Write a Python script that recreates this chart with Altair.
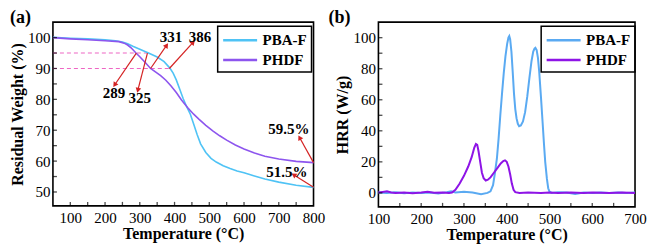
import math
import altair as alt
import pandas as pd

# ---------------- data ----------------
series = ["PBA-F", "PHDF"]

# TGA (panel a)
tga_t_pbaf = [50, 100, 150, 200, 230, 250, 265, 280, 300, 325, 350, 370, 386, 396, 405, 415,
              425, 435, 445, 455, 465, 475, 490, 505, 520, 540, 560, 580, 600, 630, 660, 700, 750, 800]
tga_w_pbaf = [100.1, 99.8, 99.6, 99.3, 99.0, 98.6, 98.0, 97.2, 96.2, 95.0, 93.7, 92.2, 90.2, 88.5, 86.3, 83.3,
              80.2, 77.6, 75.3, 72.0, 68.6, 65.6, 62.8, 60.9, 59.7, 58.5, 57.6, 56.8, 56.2, 55.2, 54.2, 53.2, 52.2, 51.5]
tga_t_phdf = [50, 100, 150, 200, 240, 255, 265, 275, 289, 300, 315, 331, 345, 360, 375, 390, 405,
              420, 438, 455, 470, 490, 510, 530, 550, 575, 600, 630, 660, 700, 750, 800]
tga_w_phdf = [100.0, 99.6, 99.3, 99.0, 98.7, 98.2, 97.6, 96.7, 95.0, 93.8, 92.0, 90.0, 88.9, 87.7, 86.2, 84.3, 82.2,
              79.8, 77.3, 75.2, 73.6, 71.6, 69.8, 68.2, 66.8, 65.2, 63.9, 62.6, 61.6, 60.7, 59.9, 59.5]

# HRR (panel b)
hrr_t_pbaf = [100, 120, 140, 160, 180, 200, 220, 240, 260, 270, 280, 300, 320, 340, 355, 362, 368, 372,
              377, 381, 385, 389, 393, 397, 401, 404, 406, 408, 411, 414, 417, 420, 423, 426, 429, 433,
              438, 443, 448, 453, 458, 462, 465, 467, 470, 473, 476, 480, 484, 487, 490, 494, 497, 500,
              505, 520, 540, 560, 580, 600, 620, 640, 660, 680, 700]
hrr_v_pbaf = [0.3, 0.0, 0.4, -0.2, 0.2, 0.0, 0.3, -0.3, 0.5, 1.0, 0.3, 0.8, 0.2, -0.8, 0.0, 1.0, 5, 12,
              22, 35, 50, 64, 77, 88, 96, 100, 101, 99, 91, 78, 64, 54, 48, 44.5, 43, 43.5,
              46, 52, 62, 74, 85, 91, 93, 93.5, 92, 87, 78, 62, 45, 32, 20, 9, 3, 0.8,
              0.0, 0.5, 0.3, -0.7, 0.2, 0.0, 0.3, 0.0, 0.2, 0.0, 0.2]
hrr_t_phdf = [100, 110, 120, 130, 140, 160, 180, 200, 215, 230, 250, 265, 272, 280, 290, 300, 310, 318,
              324, 328, 331, 334, 338, 342, 346, 351, 356, 362, 370, 378, 386, 392, 396, 400, 404, 408,
              412, 416, 420, 430, 450, 480, 500, 520, 550, 580, 600, 640, 670, 700]
hrr_v_phdf = [0.2, 0.6, 1.0, 0.3, 0.0, 0.3, -0.2, 0.3, 0.8, 0.1, 0.2, 0.0, 0.2, 2, 6, 11, 17, 23,
              29, 31.5, 31, 27, 20, 13, 9.5, 8, 8.5, 10, 13, 16, 19, 20.5, 21, 20, 17, 12,
              6, 2, 0.5, 0.0, 0.2, -0.1, 0.2, 0.0, 0.3, 0.0, 0.2, 0.0, 0.2, 0.0]

# annotations (panel a)
ref_levels = [95, 90]
ref_start = [50, 50]
ref_end = [325, 386]

arrow_x1 = [290, 322, 331, 385, 800, 800]
arrow_y1 = [95.0, 95.0, 90.0, 90.0, 59.5, 51.5]
arrow_x2 = [229, 295, 376, 452, 761, 745]
arrow_y2 = [84.9, 83.2, 97.3, 98.3, 67.4, 55.4]

note_text = ["289", "325", "331", "386", "59.5%", "51.5%"]
note_x = [226, 300, 390, 473, 729, 723]
note_y = [82.1, 80.5, 100.2, 100.2, 70.3, 56.5]

# axis ticks
a_xlabels = [100, 200, 300, 400, 500, 600, 700, 800]
a_ylabels = [50, 60, 70, 80, 90, 100]
a_xticks = [100, 150, 200, 250, 300, 350, 400, 450, 500, 550, 600, 650, 700, 750]
a_yticks = [50, 55, 60, 65, 70, 75, 80, 85, 90, 95, 100]
b_xlabels = [100, 200, 300, 400, 500, 600, 700]
b_ylabels = [0, 20, 40, 60, 80, 100]
b_xticks = [150, 200, 250, 300, 350, 400, 450, 500, 550, 600, 650]
b_yticks = [0, 10, 20, 30, 40, 50, 60, 70, 80, 90, 100]

# ---------------- styling ----------------
FONT = "Liberation Serif"
tga_colors = ["#4fc3f5", "#8d55ee"]
hrr_colors = ["#5aaaf2", "#8e14e6"]
ARROW = "#d42222"
DASH = "#ee66c4"

WA, HA = 261, 184
WB, HB = 257, 185
a_xdom, a_ydom = [50, 800], [45.5, 105]
b_xdom, b_ydom = [100, 700], [-9, 110]

xa = alt.Scale(domain=a_xdom, nice=False, zero=False)
ya = alt.Scale(domain=a_ydom, nice=False, zero=False)
xb = alt.Scale(domain=b_xdom, nice=False, zero=False)
yb = alt.Scale(domain=b_ydom, nice=False, zero=False)

ax_a_x = alt.Axis(values=a_xlabels, format="d", title="Temperature (°C)")
ax_a_y = alt.Axis(values=a_ylabels, format="d", title="Residual Weight (%)")
ax_b_x = alt.Axis(values=b_xlabels, format="d", title="Temperature (°C)")
ax_b_y = alt.Axis(values=b_ylabels, format="d", title="HRR (W/g)")


def long_df(ts, vs):
    rows = []
    for name, t, v in zip(series, ts, vs):
        rows += [{"s": name, "t": a, "v": b, "o": i} for i, (a, b) in enumerate(zip(t, v))]
    return pd.DataFrame(rows)


def ticks_layer(xt, yt, xs, ys, axx, axy, h):
    tx = alt.Chart(pd.DataFrame({"v": xt})).mark_tick(
        orient="vertical", size=4, thickness=1.3, color="black"
    ).encode(x=alt.X("v:Q", scale=xs, axis=axx), y=alt.value(h - 2))
    ty = alt.Chart(pd.DataFrame({"v": yt})).mark_tick(
        orient="horizontal", size=4, thickness=1.3, color="black"
    ).encode(y=alt.Y("v:Q", scale=ys, axis=axy), x=alt.value(2))
    return [tx, ty]


def panel_tag(txt, dx):
    return alt.Chart(pd.DataFrame({"t": [txt]})).mark_text(
        font=FONT, fontSize=18, fontWeight="bold", align="left", baseline="top", color="black"
    ).encode(text="t:N", x=alt.value(dx), y=alt.value(-13))


# ---------------- panel (a) ----------------
tga = long_df([tga_t_pbaf, tga_t_phdf], [tga_w_pbaf, tga_w_phdf])
lines_a = alt.Chart(tga).mark_line(strokeWidth=1.6).encode(
    x=alt.X("t:Q", scale=xa, axis=ax_a_x),
    y=alt.Y("v:Q", scale=ya, axis=ax_a_y),
    color=alt.Color("s:N", scale=alt.Scale(domain=series, range=tga_colors),
                    legend=alt.Legend(title=None, orient="none", legendX=WA - 96, legendY=4)),
    order="o:Q",
)

dash_df = pd.DataFrame({"x": ref_start, "x2": ref_end, "y": ref_levels})
dashes = alt.Chart(dash_df).mark_rule(color=DASH, strokeWidth=1.1, strokeDash=[4, 3]).encode(
    x=alt.X("x:Q", scale=xa, axis=ax_a_x), x2="x2:Q", y=alt.Y("y:Q", scale=ya, axis=ax_a_y))

sx = WA / (a_xdom[1] - a_xdom[0])
sy = HA / (a_ydom[1] - a_ydom[0])
angles = []
for x1, y1, x2, y2 in zip(arrow_x1, arrow_y1, arrow_x2, arrow_y2):
    dxp = (x2 - x1) * sx
    dyp = -(y2 - y1) * sy
    angles.append(math.degrees(math.atan2(dxp, -dyp)) % 360)
arr_df = pd.DataFrame({"x1": arrow_x1, "y1": arrow_y1, "x2": arrow_x2, "y2": arrow_y2, "ang": angles})
arrows = alt.Chart(arr_df).mark_rule(color=ARROW, strokeWidth=1.2).encode(
    x=alt.X("x1:Q", scale=xa, axis=ax_a_x), y=alt.Y("y1:Q", scale=ya, axis=ax_a_y), x2="x2:Q", y2="y2:Q")
heads = alt.Chart(arr_df).mark_point(shape="triangle", filled=True, size=32, color=ARROW, opacity=1).encode(
    x=alt.X("x2:Q", scale=xa, axis=ax_a_x), y=alt.Y("y2:Q", scale=ya, axis=ax_a_y),
    angle=alt.Angle("ang:Q", scale=None))

note_df = pd.DataFrame({"t": note_text, "x": note_x, "y": note_y})
notes = alt.Chart(note_df).mark_text(font=FONT, fontSize=15, fontWeight="bold", color="black",
                                     align="center", baseline="middle").encode(
    x=alt.X("x:Q", scale=xa, axis=ax_a_x), y=alt.Y("y:Q", scale=ya, axis=ax_a_y), text="t:N")

panel_a = alt.layer(
    dashes, lines_a, arrows, heads, notes,
    *ticks_layer(a_xticks, a_yticks, xa, ya, ax_a_x, ax_a_y, HA),
    panel_tag("(a)", -43)
).properties(width=WA, height=HA)

# ---------------- panel (b) ----------------
hrr = long_df([hrr_t_pbaf, hrr_t_phdf], [hrr_v_pbaf, hrr_v_phdf])
lines_b = alt.Chart(hrr).mark_line(strokeWidth=2).encode(
    x=alt.X("t:Q", scale=xb, axis=ax_b_x),
    y=alt.Y("v:Q", scale=yb, axis=ax_b_y),
    color=alt.Color("s:N", scale=alt.Scale(domain=series, range=hrr_colors),
                    legend=alt.Legend(title=None, orient="none", legendX=WB - 94, legendY=4)),
    order="o:Q",
)

panel_b = alt.layer(
    lines_b, *ticks_layer(b_xticks, b_yticks, xb, yb, ax_b_x, ax_b_y, HB), panel_tag("(b)", -50)
).properties(width=WB, height=HB)

chart = alt.hconcat(panel_a, panel_b, spacing=1).resolve_scale(
    color="independent", x="independent", y="independent"
).resolve_legend(color="independent").properties(
    padding=0, background="white"
).configure_view(
    stroke="black", strokeWidth=1.6
).configure_axis(
    grid=False, ticks=False, domain=False, labelFlush=False, labelOverlap=False,
    labelFont=FONT, labelFontSize=15, labelColor="black",
    titleFont=FONT, titleFontSize=16, titleFontWeight="bold", titleColor="black",
).configure_axisX(
    labelPadding=5, titlePadding=0
).configure_axisY(
    labelPadding=3, titlePadding=2
).configure_legend(
    labelFont=FONT, labelFontSize=15, labelFontWeight="bold", labelColor="black",
    strokeColor="black", strokeWidth=1.5, padding=4,
    symbolType="M-1,0H3", symbolSize=289, symbolStrokeWidth=2.5,
    rowPadding=2, labelOffset=21,
)

chart.save("out.html", embed_options={"renderer": "svg", "actions": False})
